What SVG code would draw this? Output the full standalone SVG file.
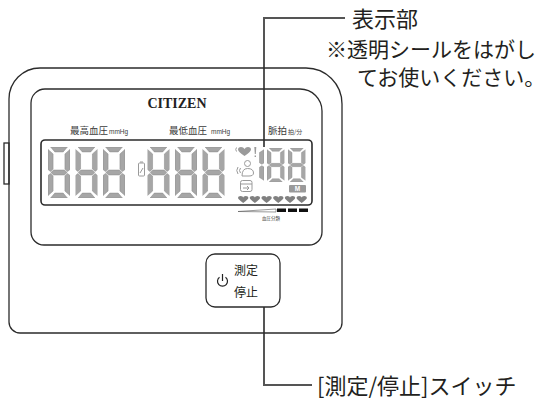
<svg xmlns="http://www.w3.org/2000/svg" xmlns:xlink="http://www.w3.org/1999/xlink" width="545" height="406" viewBox="0 0 545 406">
  <style>
    .outline { fill: none; stroke: #2b2b2b; stroke-width: 1.3; }
    .lcd { fill: none; stroke: #2b2b2b; stroke-width: 1.6; }
    .seg { fill: #a6a6a6; stroke: #8a8a8a; stroke-width: 0.5; }
    .icon { fill: none; stroke: #9a9a9a; stroke-width: 1; }
    .leader { fill: none; stroke: #555; stroke-width: 2; }
    .jp { font-family: "Noto Sans CJK JP", "Noto Sans", sans-serif; fill: #231f20; }
    .lbl { font-family: "Noto Sans CJK JP", "Noto Sans", sans-serif; fill: #3c3c3c; }
    .unit { font-family: "Liberation Sans", Arial, sans-serif; fill: #3c3c3c; }
  </style>
  <defs>
    <!-- seven-segment digit "8" -->
    <symbol id="digit8" viewBox="0 0 20 50" preserveAspectRatio="none">
      <polygon class="seg" points="2.4,0 17.6,0 13.8,4.8 6.2,4.8"/>
      <polygon class="seg" points="0,2.4 4.6,6.8 4.6,21.6 2.2,24 0,22"/>
      <polygon class="seg" points="20,2.4 15.4,6.8 15.4,21.6 17.8,24 20,22"/>
      <polygon class="seg" points="2.6,25 5,22.6 15,22.6 17.4,25 15,27.4 5,27.4"/>
      <polygon class="seg" points="0,28 2.2,26 4.6,28.4 4.6,43.2 0,47.6"/>
      <polygon class="seg" points="20,28 17.8,26 15.4,28.4 15.4,43.2 20,47.6"/>
      <polygon class="seg" points="2.4,50 17.6,50 13.8,45.2 6.2,45.2"/>
    </symbol>
    <!-- seven-segment digit "1" (right-hand segments only) -->
    <symbol id="digit1" viewBox="15 0 5 50" preserveAspectRatio="none">
      <polygon class="seg" points="20,2.4 15.4,6.8 15.4,21.6 17.8,24 20,22"/>
      <polygon class="seg" points="20,28 17.8,26 15.4,28.4 15.4,43.2 20,47.6"/>
    </symbol>
    <!-- pressure level heart -->
    <path id="lvl" d="M0,1.8 Q0,0 2.6,0 Q5.2,0 5.2,1.6 Q5.2,0 7.8,0 Q10.4,0 10.4,1.8 Q10.4,3.4 5.2,7 Q0,3.4 0,1.8 Z" fill="#808080"/>
  </defs>

  <!-- connectors -->
  <g id="connectors">
    <polyline class="leader" points="345,18 264,18 264,147"/>
    <polyline class="leader" points="264,307 264,385 312,385"/>
  </g>

  <!-- monitor body -->
  <g id="body">
    <path class="outline" d="M40,68 H306 A36,36 0 0 1 342,104 V323 A10,10 0 0 1 332,333 H20 A11,11 0 0 1 9,322 V99 A31,31 0 0 1 40,68 Z"/>
    <rect class="outline" x="4" y="143" width="5" height="41"/>
  </g>

  <!-- display panel -->
  <g id="display">
    <path class="outline" d="M45,89 H300 A22,22 0 0 1 322,111 V232 A13,13 0 0 1 309,245 H44 A13,13 0 0 1 31,232 V103 A14,14 0 0 1 45,89 Z"/>
    <text x="177" y="108" text-anchor="middle" font-family="Liberation Serif, 'Times New Roman', serif" font-weight="bold" font-size="14" fill="#222">CITIZEN</text>

    <text class="lbl" x="70" y="134" font-size="9.5">最高血圧</text>
    <text class="unit" x="109" y="134" font-size="6.5">mmHg</text>
    <text class="lbl" x="169" y="134" font-size="9.5">最低血圧</text>
    <text class="unit" x="211" y="134" font-size="6.5">mmHg</text>
    <text class="lbl" x="268" y="134" font-size="9.5">脈拍</text>
    <text class="lbl" x="288" y="134" font-size="6">拍/分</text>

    <rect class="lcd" x="41" y="140" width="271" height="65" rx="4"/>

    <!-- systolic / diastolic digits -->
    <use xlink:href="#digit8" x="48" y="147" width="22" height="51"/>
    <use xlink:href="#digit8" x="75.5" y="147" width="22" height="51"/>
    <use xlink:href="#digit8" x="103" y="147" width="22" height="51"/>
    <use xlink:href="#digit8" x="147.5" y="147" width="22" height="51"/>
    <use xlink:href="#digit8" x="175" y="147" width="22" height="51"/>
    <use xlink:href="#digit8" x="202.5" y="147" width="22" height="51"/>

    <!-- battery mark -->
    <g class="icon">
      <rect x="138.5" y="163" width="6" height="13" rx="1"/>
      <line x1="140" y1="162" x2="143" y2="162"/>
      <line x1="140" y1="173" x2="143" y2="168"/>
    </g>

    <!-- heart / irregular pulse mark -->
    <path d="M244.5,156 Q238,151.5 238,149.5 Q238,147 241,147 Q243.5,147 244.5,149 Q245.5,147 248,147 Q251,147 251,149.5 Q251,151.5 244.5,156 Z" fill="#9a9a9a"/>
    <path class="icon" d="M236.5,147.5 Q235,149.5 236.5,151.5"/>
    <path d="M254.3,147 H256.3 L255.8,154 H254.8 Z M254.6,155.5 H256 V157 H254.6 Z" fill="#9a9a9a"/>

    <!-- body movement mark -->
    <g class="icon">
      <circle cx="247.5" cy="163.5" r="3"/>
      <path d="M242,176 Q242,168.5 247.5,168.5 Q253.5,168.5 253.5,173 Q253.5,176 249,176 Z"/>
      <path d="M240.5,168 Q238.5,170.5 240.5,173"/>
      <path d="M238,167 Q235.5,170.5 238,174"/>
    </g>

    <!-- memory / cuff mark -->
    <g class="icon">
      <rect x="240.5" y="180.5" width="11.5" height="11" rx="2"/>
      <line x1="240.5" y1="184" x2="252" y2="184"/>
      <path d="M243,188 H249 M247,186 L249,188 L247,190"/>
    </g>

    <!-- pulse digits -->
    <use xlink:href="#digit1" x="259" y="148" width="5" height="34"/>
    <use xlink:href="#digit8" x="267" y="148" width="17.5" height="34"/>
    <use xlink:href="#digit8" x="288" y="148" width="17.5" height="34"/>

    <!-- memory badge -->
    <rect x="289" y="185" width="17" height="7.5" rx="1" fill="#9a9a9a"/>
    <text x="297.5" y="191.2" text-anchor="middle" font-family="Liberation Sans, Arial, sans-serif" font-size="6.5" font-weight="bold" fill="#fff">M</text>

    <!-- pressure level indicators -->
    <use xlink:href="#lvl" x="238" y="196"/>
    <use xlink:href="#lvl" x="249.7" y="196"/>
    <use xlink:href="#lvl" x="261.4" y="196"/>
    <use xlink:href="#lvl" x="273.1" y="196"/>
    <use xlink:href="#lvl" x="284.8" y="196"/>
    <use xlink:href="#lvl" x="296.5" y="196"/>

    <!-- classification scale -->
    <polygon points="238,211.5 276,209 276,212" fill="none" stroke="#555" stroke-width="0.6"/>
    <rect x="277" y="208.5" width="9" height="3.5" fill="#111"/>
    <rect x="288" y="208.5" width="9" height="3.5" fill="#111"/>
    <rect x="299" y="208.5" width="9" height="3.5" fill="#111"/>
    <text class="lbl" x="262" y="220" font-size="4.5">血圧分類</text>
  </g>

  <!-- measure / stop button -->
  <g id="button">
    <rect class="outline" x="206" y="254" width="74" height="53" rx="9"/>
    <path d="M219.5,277.2 A5,5 0 1 0 225.5,277.2" fill="none" stroke="#222" stroke-width="1.2"/>
    <line x1="222.5" y1="274" x2="222.5" y2="281" stroke="#222" stroke-width="1.2"/>
    <text class="jp" x="234" y="275" font-size="12">測定</text>
    <text class="jp" x="234" y="297" font-size="12">停止</text>
  </g>

  <!-- callout labels -->
  <g id="label-display">
    <text class="jp" x="352" y="26.5" font-size="22">表示部</text>
    <text class="jp" x="326" y="57" font-size="21">※透明シールをはがし</text>
    <text class="jp" x="357" y="85" font-size="21">てお使いください。</text>
  </g>
  <g id="label-switch">
    <text class="jp" x="317" y="394" font-size="22">[測定/停止]スイッチ</text>
  </g>
</svg>
